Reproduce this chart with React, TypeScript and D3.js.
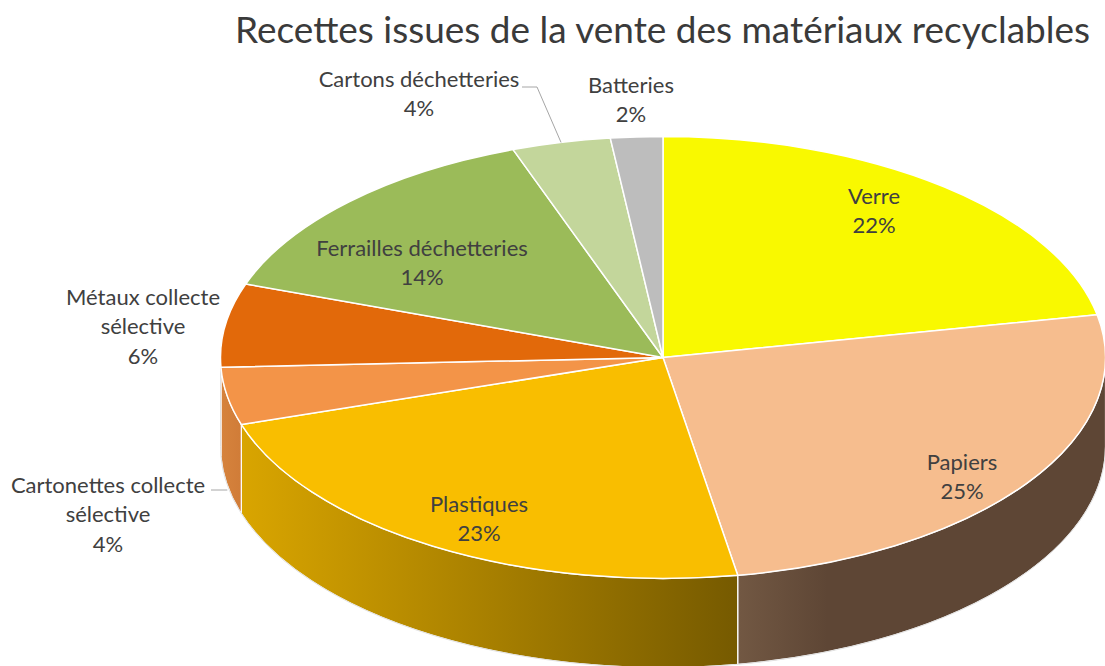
import React from 'react';
import * as d3 from 'd3';

// chart data
const categories = [
  'Verre',
  'Papiers',
  'Plastiques',
  'Cartonettes collecte sélective',
  'Métaux collecte sélective',
  'Ferrailles déchetteries',
  'Cartons déchetteries',
  'Batteries',
];
const values = [21.9, 25.4, 22.8, 4.2, 6.1, 14.1, 3.6, 1.9];
const labelLines = [
  ['Verre'],
  ['Papiers'],
  ['Plastiques'],
  ['Cartonettes collecte', 'sélective'],
  ['Métaux collecte', 'sélective'],
  ['Ferrailles déchetteries'],
  ['Cartons déchetteries'],
  ['Batteries'],
];

// styling / layout
const topColors = ['#F9F900', '#F6BD8E', '#F9BE00', '#F39448', '#E2690A', '#9BBB59', '#C3D69B', '#BDBDBD'];
const sideColors = [
  ['#D4D400', '#D4D400'],
  ['#725843', '#5E4635'],
  ['#D9A500', '#765A00'],
  ['#D6833D', '#D07C38'],
  ['#C95C08', '#C95C08'],
  ['#85A04B', '#85A04B'],
  ['#A8B985', '#A8B985'],
  ['#A3A3A3', '#A3A3A3'],
];
// label centres (first line) for each slice
const labelPos = [
  [874, 196],
  [962, 462],
  [479, 504],
  [108, 485],
  [143, 297],
  [422, 248],
  [419, 79],
  [631, 85],
];

const W = 1105;
const H = 666;
const cx = 663;
const cy = 357.5;
const rx = 442.5;
const ry = 221;
const depth = 89;
const lineH = 29.5;

const pt = (a: number, dy = 0): [number, number] => [cx + rx * Math.sin(a), cy - ry * Math.cos(a) + dy];

export default function App() {
  const pie = d3.pie<number>().sort(null).value((d) => d);
  const arcs = pie(values);
  const total = d3.sum(values);
  const fmt = (v: number) => `${Math.round((v / total) * 100)}%`;

  const topPath = (a0: number, a1: number) => {
    const p0 = pt(a0);
    const p1 = pt(a1);
    const large = a1 - a0 > Math.PI ? 1 : 0;
    return `M${cx},${cy}L${p0[0]},${p0[1]}A${rx},${ry} 0 ${large} 1 ${p1[0]},${p1[1]}Z`;
  };

  const sidePath = (a0: number, a1: number) => {
    const s = Math.max(a0, Math.PI / 2);
    const e = Math.min(a1, (3 * Math.PI) / 2);
    if (e <= s) return null;
    const p0 = pt(s);
    const p1 = pt(e);
    const q1 = pt(e, depth);
    const q0 = pt(s, depth);
    return {
      d: `M${p0[0]},${p0[1]}A${rx},${ry} 0 0 1 ${p1[0]},${p1[1]}L${q1[0]},${q1[1]}A${rx},${ry} 0 0 0 ${q0[0]},${q0[1]}Z`,
      x0: Math.min(p0[0], p1[0]),
      x1: Math.max(p0[0], p1[0]),
    };
  };

  const sides = arcs.map((a, i) => ({ i, side: sidePath(a.startAngle, a.endAngle) })).filter((d) => d.side);

  // leader lines for outside labels
  const cartonsMid = (arcs[6].startAngle + arcs[6].endAngle) / 2;
  const cartonsEnd = pt(cartonsMid);
  const cartonettesMid = (arcs[3].startAngle + arcs[3].endAngle) / 2;
  const cartonettesEnd = pt(cartonettesMid, depth);

  const r0 = pt(Math.PI / 2);
  const r1 = pt(Math.PI / 2, depth);
  const l1 = pt((3 * Math.PI) / 2, depth);
  const l0 = pt((3 * Math.PI) / 2);

  return (
    <svg
      width={W}
      height={H}
      style={{ position: 'absolute', left: 0, top: 0, background: '#fff' }}
      fontFamily="Lato, 'Open Sans', sans-serif"
    >
      <defs>
        {sides.map(({ i, side }) => (
          <linearGradient
            key={i}
            id={`side-${i}`}
            gradientUnits="userSpaceOnUse"
            x1={side!.x0}
            x2={i === 1 ? side!.x0 + 90 : side!.x1}
            y1={0}
            y2={0}
          >
            <stop offset="0%" stopColor={sideColors[i][0]} />
            <stop offset="100%" stopColor={sideColors[i][1]} />
          </linearGradient>
        ))}
      </defs>

      <text x={235} y={43} fontSize={37} fill="#3A3A3A" textLength={855} lengthAdjust="spacingAndGlyphs">
        Recettes issues de la vente des matériaux recyclables
      </text>

      {/* sides */}
      <g>
        {sides.map(({ i, side }) => (
          <path key={i} d={side!.d} fill={`url(#side-${i})`} stroke="#fff" strokeWidth={1.2} />
        ))}
        <path
          d={`M${r0[0]},${r0[1]}L${r1[0]},${r1[1]}A${rx},${ry} 0 0 1 ${l1[0]},${l1[1]}L${l0[0]},${l0[1]}`}
          fill="none"
          stroke="#D9D9D9"
          strokeWidth={0.8}
        />
      </g>

      {/* top faces */}
      <g>
        {arcs.map((a, i) => (
          <path key={i} d={topPath(a.startAngle, a.endAngle)} fill={topColors[i]} stroke="#fff" strokeWidth={1.5} strokeLinejoin="round" />
        ))}
      </g>

      {/* leader lines */}
      <polyline
        points={`522,87 537,87 ${cartonsEnd[0]},${cartonsEnd[1]}`}
        fill="none"
        stroke="#A6A6A6"
        strokeWidth={1}
      />
      <polyline points={`211,490 ${cartonettesEnd[0]},490`} fill="none" stroke="#A6A6A6" strokeWidth={1} />

      {/* labels */}
      <g fontSize={22} fill="#404040" textAnchor="middle">
        {arcs.map((a, i) => {
          const [x, y] = labelPos[i];
          const lines = [...labelLines[i], fmt(a.data)];
          return (
            <text key={categories[i]} x={x} y={y}>
              {lines.map((l, j) => (
                <tspan key={j} x={x} y={y + j * lineH} dy="0.35em">
                  {l}
                </tspan>
              ))}
            </text>
          );
        })}
      </g>
    </svg>
  );
}
